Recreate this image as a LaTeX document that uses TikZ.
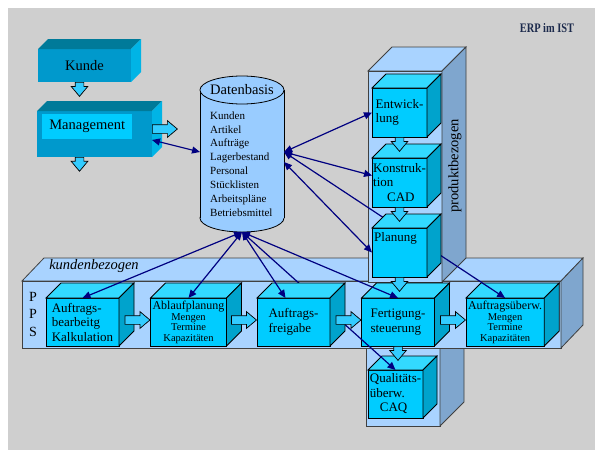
\documentclass[tikz,border=0pt]{standalone}
\usepackage{fontspec}
\setmainfont{Liberation Serif}
\usetikzlibrary{arrows.meta, positioning, shapes.arrows}

\definecolor{bggraycol}{HTML}{CFCFCF}
\definecolor{panelcol}{HTML}{A9D3FF}
\definecolor{panelsidecol}{HTML}{7FA6CE}
\definecolor{tealfrontcol}{HTML}{0099CC}
\definecolor{tealtopcol}{HTML}{007A99}
\definecolor{tealsidecol}{HTML}{00B4E6}
\definecolor{cubefrontcol}{HTML}{00CCFF}
\definecolor{cubetopcol}{HTML}{33D9FF}
\definecolor{cubesidecol}{HTML}{00A3CC}
\definecolor{dbcol}{HTML}{99CCFF}
\definecolor{arrowcol}{HTML}{33CCFF}
\definecolor{navycol}{HTML}{000080}
\definecolor{titlecol}{HTML}{1C2A4C}

% top and right face of a box drawn onto its front node
\newcommand{\boxsides}[4]{%
  \path[#3] (#1.north west) -- ++(#2,-#2) -- ([shift={(#2,-#2)}]#1.north east) -- (#1.north east) -- cycle;
  \path[#4] (#1.north east) -- ++(#2,-#2) -- ([shift={(#2,-#2)}]#1.south east) -- (#1.south east) -- cycle;
}
\newcommand{\smallline}[1]{{\fontsize{10.5}{12}\selectfont #1}}

\begin{document}
\begin{tikzpicture}[
  x=1pt, y=-1pt,
  panel/.style={fill=panelcol, draw=black!75, line width=0.8pt},
  panelside/.style={fill=panelsidecol, draw=black!75, line width=0.8pt},
  cube/.style={rectangle, fill=cubefrontcol, draw=black, line width=0.8pt, outer sep=0pt,
    inner sep=2pt, align=left, minimum width=73pt, minimum height=48pt,
    font=\fontsize{13}{14.5}\selectfont},
  cubetopface/.style={fill=cubetopcol, draw=black, line width=0.8pt},
  cubesideface/.style={fill=cubesidecol, draw=black, line width=0.8pt},
  tealbox/.style={rectangle, fill=tealfrontcol, outer sep=0pt, inner sep=0pt,
    font=\fontsize{14.5}{16}\selectfont},
  tealtopface/.style={fill=tealtopcol},
  tealsideface/.style={fill=tealsidecol},
  blockarrow/.style={single arrow, draw=black, fill=arrowcol, line width=0.7pt, inner sep=4pt,
    minimum height=25pt, single arrow head extend=4pt, single arrow tip angle=80},
  downarrow/.style={blockarrow, shape border rotate=270, minimum height=14pt},
  dblink/.style={draw=navycol, line width=1.2pt,
    arrows={Triangle[length=8pt,width=7pt]-Triangle[length=8pt,width=7pt]}},
]
\useasboundingbox (0,0) rectangle (595,450);
\fill[bggraycol] (8,8) rectangle (595,450);

% columns and band
\path[panel] (366,282) rectangle (440,426);
\path[panelside] (440,282) -- (464,258) -- (464,402) -- (440,426) -- cycle;
\path[panel] (22,281) -- (44,258) -- (583,258) -- (561,281) -- cycle;
\path[panel] (22,281) rectangle (561,348);
\path[panelside] (561,281) -- (583,258) -- (583,325) -- (561,348) -- cycle;
\path[panel] (368,71) -- (392,47) -- (466,47) -- (442,71) -- cycle;
\path[panel] (368,71) rectangle (442,282);
\path[panelside] (442,71) -- (466,47) -- (466,258) -- (442,282) -- cycle;

\node[font=\itshape\fontsize{14.5}{16}\selectfont] (kundenlabel) at (94,266) {kundenbezogen};
\node[align=center, font=\fontsize{14}{17.5}\selectfont] (ppslabel) at (33,314) {P\\P\\S};
\node[rotate=90, font=\fontsize{14.5}{16}\selectfont] (produktlabel) at (455,166) {produktbezogen};
\node[font=\bfseries\fontsize{13}{13}\selectfont, text=titlecol] (title) at (547,28)
  {\scalebox{0.8}[1]{ERP im IST}};

% Kunde and Management
\node[tealbox, minimum width=93pt, minimum height=33pt] (kunde) at (84.5,65.5) {Kunde};
\boxsides{kunde}{10}{tealtopface}{tealsideface}
\node[tealbox, minimum width=115pt, minimum height=46pt] (mgmt) at (94.5,134) {};
\boxsides{mgmt}{10}{tealtopface}{tealsideface}
\node[fill=cubefrontcol, minimum width=90pt, minimum height=25pt, anchor=north west, inner sep=0pt,
  font=\fontsize{14.5}{16}\selectfont] (mgmttext) at ([shift={(5,3)}]mgmt.north west) {Management};

% Datenbasis
\node[minimum width=84pt, minimum height=128pt, inner sep=0pt, outer sep=0pt] (db) at (242,154) {};
\filldraw[fill=dbcol, draw=black, line width=0.8pt] (db.south) ellipse [x radius=42pt, y radius=14pt];
\fill[dbcol] (db.north west) rectangle (db.south east);
\draw[line width=0.8pt] (db.north west) -- (db.south west) (db.north east) -- (db.south east);
\filldraw[fill=dbcol, draw=black, line width=0.8pt] (db.north) ellipse [x radius=42pt, y radius=14pt];
\node[font=\fontsize{14.5}{16}\selectfont] (dbtitle) at (db.north) {Datenbasis};
\node[anchor=west, align=left, inner sep=0pt, font=\fontsize{11}{13.9}\selectfont] (dblist) at (210,164)
  {Kunden\\Artikel\\Aufträge\\Lagerbestand\\Personal\\Stücklisten\\Arbeitspläne\\Betriebsmittel};
\coordinate (db-l) at ([yshift=2pt]db.west);
\coordinate (db-r) at ([yshift=2pt]db.east);
\coordinate (db-r2) at ([yshift=-8pt]db.east);
\coordinate (db-b) at ([yshift=-14pt]db.south);

% process boxes
\node[cube] (auft) at (82.5,322) {Auftrags-\\bearbeitg\\Kalkulation};
\boxsides{auft}{15}{cubetopface}{cubesideface}
\node[cube, minimum width=75pt, right=31.5pt of auft, align=center, font=\fontsize{12}{14}\selectfont] (ablauf)
  {Ablaufplanung\\[-3pt]\smallline{Mengen}\\[-3.5pt]\smallline{Termine}\\[-3.5pt]\smallline{Kapazitäten}};
\boxsides{ablauf}{15}{cubetopface}{cubesideface}
\node[cube] (fert) at (398,322) {Fertigung-\\steuerung};
\boxsides{fert}{15}{cubetopface}{cubesideface}
\node[cube, minimum width=78pt, right=31.5pt of fert, align=center, font=\fontsize{12}{14}\selectfont] (ueberw)
  {Auftragsüberw.\\[-3pt]\smallline{Mengen}\\[-3.5pt]\smallline{Termine}\\[-3.5pt]\smallline{Kapazitäten}};
\boxsides{ueberw}{15}{cubetopface}{cubesideface}
\node[cube, minimum width=55pt, inner xsep=1pt] (qual) at (395.5,394) {Qualitäts-\\überw.\\\hspace*{10pt}CAQ};
\boxsides{qual}{14}{cubetopface}{cubesideface}
\node[cube, minimum width=55pt, minimum height=49pt, inner xsep=1pt] (entw) at (399.5,112.5) {Entwick-\\lung};
\boxsides{entw}{14}{cubetopface}{cubesideface}
\node[cube, minimum width=55pt, minimum height=49pt, inner xsep=0.5pt, below=21pt of entw] (konst)
  {Konstruk-\\tion\\\hspace*{14pt}CAD};
\boxsides{konst}{14}{cubetopface}{cubesideface}

% links to the Datenbasis
\draw[dblink] (db-b) -- (auft.north);
\draw[dblink] (db-b) -- (ablauf.north);
\draw[dblink] (db-b) -- (fert.north);
\draw[dblink] (db-b) -- (qual.north);
\draw[dblink] (db-r) -- (ueberw.north);
\draw[dblink] (db-r) -- (entw.west);
\draw[dblink] (db-r) -- ([yshift=7pt]konst.west);
\draw[dblink] (db-l) -- ([yshift=-6pt]mgmt.east);

\node[cube] (frei) at (293.5,322) {Auftrags-\\freigabe};
\boxsides{frei}{15}{cubetopface}{cubesideface}
\node[cube, minimum width=55pt, minimum height=49pt, below=21pt of konst,
  label={[anchor=north west, inner xsep=2pt, inner ysep=4pt, font=\fontsize{13}{14.5}\selectfont]north west:Planung}] (plan) {};
\boxsides{plan}{14}{cubetopface}{cubesideface}

\draw[dblink] (db-b) -- ([xshift=-8pt]frei.north);
\draw[dblink] (db-r2) -- (plan.west);

% flow arrows
\node[downarrow, anchor=tail] (kunde-mgmt) at ([xshift=-5pt]kunde.south) {};
\node[blockarrow, anchor=tail] (mgmt-out) at ([yshift=5pt]mgmt.east) {};
\node[downarrow, anchor=tail, minimum height=13pt] (mgmt-down) at ([xshift=-15pt]mgmt.south) {};
\node[downarrow, anchor=tail] (entw-konst) at (entw.south) {};
\node[downarrow, anchor=tail] (konst-plan) at (konst.south) {};
\node[downarrow, anchor=tail] (plan-fert) at (plan.south) {};
\node[downarrow, anchor=tail] (fert-qual) at (fert.south) {};
\node[blockarrow, anchor=tip] (auft-ablauf) at ([yshift=2pt]ablauf.west) {};
\node[blockarrow, anchor=tip] (ablauf-frei) at ([yshift=2pt]frei.west) {};
\node[blockarrow, anchor=tip] (frei-fert) at ([yshift=2pt]fert.west) {};
\node[blockarrow, anchor=tip] (fert-ueberw) at ([yshift=2pt]ueberw.west) {};
\end{tikzpicture}
\end{document}
